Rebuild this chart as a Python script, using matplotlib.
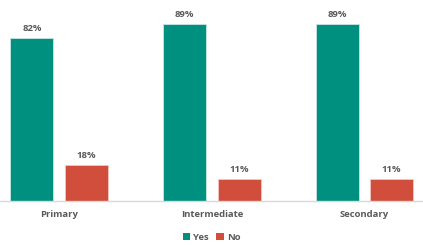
import numpy as np
import matplotlib
matplotlib.use('Agg')
import matplotlib.pyplot as plt

categories = ['Primary', 'Intermediate', 'Secondary']
yes_vals = [82, 89, 89]
no_vals = [18, 11, 11]

teal = '#00907F'
red = '#D04E3B'
grey = '#595959'

plt.rcParams['font.family'] = ['Open Sans', 'DejaVu Sans']

fig = plt.figure(figsize=(4.23, 2.45), dpi=100)
ax = fig.add_axes([0, 44 / 245, 1, 198.5 / 245])

x = np.arange(len(categories))
w = 0.282
off = 0.357
b1 = ax.bar(x - off / 2, yes_vals, w, color=teal, edgecolor='#c8e6e2', linewidth=0.6, label='Yes')
b2 = ax.bar(x + off / 2, no_vals, w, color=red, edgecolor='#f0c8c0', linewidth=0.6, label='No')

for bars, vals in [(b1, yes_vals), (b2, no_vals)]:
    for r, v in zip(bars, vals):
        ax.text(r.get_x() + r.get_width() / 2, v + 2.6, f'{v}%', ha='center', va='bottom',
                fontsize=6.8, fontweight='bold', color=grey)

ax.set_xlim(-0.388, 2.384)
ax.set_ylim(0, 100)
ax.set_yticks([])
ax.set_xticks(x)
ax.set_xticklabels(categories, fontsize=6.8, fontweight='bold', color=grey)
ax.tick_params(axis='x', length=0, pad=6.5)
for s in ['top', 'right', 'left']:
    ax.spines[s].set_visible(False)
ax.spines['bottom'].set_color('#d9d9d9')
ax.spines['bottom'].set_linewidth(1)

leg = fig.legend(loc='center', bbox_to_anchor=(0.5, 8 / 245), ncol=2, frameon=False,
                 fontsize=6.8, handlelength=0.8, handleheight=0.8, handletextpad=0.3,
                 columnspacing=0.8)
for t in leg.get_texts():
    t.set_color(grey)
    t.set_fontweight('bold')
for h in leg.legend_handles:
    h.set_edgecolor('none')

fig.savefig('out.png', dpi=100)
